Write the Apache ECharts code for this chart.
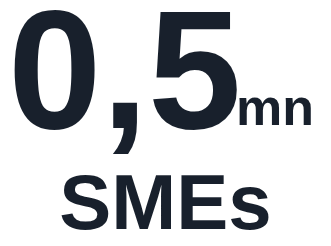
<!DOCTYPE html>
<html><head><meta charset="utf-8">
<script src="https://cdn.jsdelivr.net/npm/echarts@6/dist/echarts.min.js"></script>
<style>html,body{margin:0;padding:0;background:#fff}#c{width:331px;height:246px}</style>
</head><body><div id="c"></div>
<script>
const valueText = ["0,5"];
const unitText = ["mn"];
const labelText = ["SMEs"];
const color = "#18202c";
const ff = '"Liberation Sans", Arial, sans-serif';
const chart = echarts.init(document.getElementById('c'), null, {renderer: 'canvas'});
chart.setOption({
  animation: false,
  graphic: [
    {type: 'text', left: 8, top: -2, style: {text: valueText[0], font: 'bold 168px ' + ff, fill: color}},
    {type: 'text', left: 236, top: 85, style: {text: unitText[0], font: 'bold 52px ' + ff, fill: color}},
    {type: 'text', left: 'center', top: 168, style: {text: labelText[0], font: 'bold 78px ' + ff, fill: color}}
  ]
});
</script></body></html>
